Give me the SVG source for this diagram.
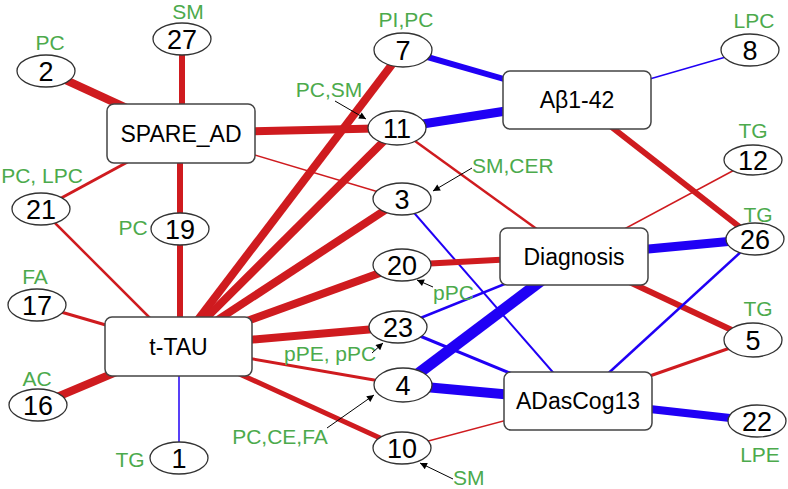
<svg xmlns="http://www.w3.org/2000/svg" width="788" height="489" viewBox="0 0 788 489">
<defs>
<style>
.r{stroke:#cf1b1f;fill:none}
.b{stroke:#2000f5;fill:none}
.n ellipse{fill:#fff;stroke:#333;stroke-width:1.3}
.n rect{fill:#fff;stroke:#444;stroke-width:1.5}
.num{font-family:"Liberation Sans",Arial,sans-serif;font-size:27px;fill:#000;text-anchor:middle}
.box{font-family:"Liberation Sans",Arial,sans-serif;font-size:23px;fill:#000;text-anchor:middle}
.g{font-family:"Liberation Sans",Arial,sans-serif;font-size:21px;fill:#4caa4c;text-anchor:middle}
.gs{text-anchor:start}
.ar{stroke:#000;stroke-width:1;fill:none;marker-end:url(#ah)}
</style>
<marker id="ah" viewBox="0 0 10 10" refX="10" refY="5" markerWidth="9" markerHeight="7" markerUnits="userSpaceOnUse" orient="auto">
<path d="M0,0 L10,5 L0,10 z" fill="#000"/>
</marker>
</defs>
<rect width="788" height="489" fill="#fff"/>
<g id="connectors">
<line class="r" stroke-width="8" x1="181" y1="133" x2="46" y2="71"/>
<line class="r" stroke-width="6" x1="182" y1="133" x2="182" y2="39"/>
<line class="r" stroke-width="6" x1="180" y1="133" x2="180" y2="229"/>
<line class="r" stroke-width="3" x1="181" y1="133" x2="41" y2="209"/>
<line class="r" stroke-width="8" x1="181" y1="133" x2="397" y2="128"/>
<line class="r" stroke-width="1.5" x1="181" y1="133" x2="402" y2="199"/>
<line class="r" stroke-width="2.5" x1="178" y1="346" x2="41" y2="209"/>
<line class="r" stroke-width="6" x1="180" y1="346" x2="180" y2="229"/>
<line class="r" stroke-width="3" x1="178" y1="346" x2="37" y2="305"/>
<line class="r" stroke-width="8" x1="178" y1="346" x2="38" y2="405"/>
<line class="b" stroke-width="1.5" x1="179" y1="346" x2="179" y2="458"/>
<line class="r" stroke-width="8" x1="178" y1="346" x2="403" y2="50"/>
<line class="r" stroke-width="8" x1="178" y1="346" x2="397" y2="128"/>
<line class="r" stroke-width="8" x1="178" y1="346" x2="402" y2="199"/>
<line class="r" stroke-width="8" x1="178" y1="346" x2="402" y2="265"/>
<line class="r" stroke-width="8" x1="178" y1="346" x2="398" y2="327"/>
<line class="r" stroke-width="3" x1="178" y1="346" x2="403" y2="385"/>
<line class="r" stroke-width="5" x1="178" y1="346" x2="402" y2="448"/>
<line class="b" stroke-width="6" x1="403" y1="50" x2="577" y2="100"/>
<line class="b" stroke-width="9" x1="397" y1="128" x2="577" y2="100"/>
<line class="b" stroke-width="1.5" x1="750" y1="50" x2="577" y2="100"/>
<line class="r" stroke-width="2.5" x1="397" y1="128" x2="574" y2="256"/>
<line class="r" stroke-width="6" x1="577" y1="100" x2="755" y2="239"/>
<line class="r" stroke-width="1.5" x1="753" y1="160" x2="574" y2="256"/>
<line class="b" stroke-width="9" x1="574" y1="256" x2="755" y2="239"/>
<line class="b" stroke-width="2" x1="402" y1="199" x2="578" y2="401"/>
<line class="r" stroke-width="6" x1="402" y1="265" x2="574" y2="256"/>
<line class="b" stroke-width="2.5" x1="398" y1="327" x2="574" y2="256"/>
<line class="b" stroke-width="3" x1="398" y1="327" x2="578" y2="401"/>
<line class="b" stroke-width="11" x1="403" y1="385" x2="574" y2="256"/>
<line class="b" stroke-width="10" x1="403" y1="385" x2="578" y2="401"/>
<line class="r" stroke-width="1.5" x1="402" y1="448" x2="578" y2="401"/>
<line class="r" stroke-width="6" x1="574" y1="256" x2="753" y2="340"/>
<line class="b" stroke-width="2.5" x1="755" y1="239" x2="578" y2="401"/>
<line class="r" stroke-width="3" x1="753" y1="340" x2="578" y2="401"/>
<line class="b" stroke-width="8" x1="578" y1="401" x2="757" y2="421"/>
</g>
<g id="n_SPARE_AD" class="n"><rect x="107" y="104" width="148" height="59" rx="7"/><text class="box" x="181" y="142">SPARE_AD</text></g>
<g id="n_tTAU" class="n"><rect x="105" y="317" width="147" height="59" rx="7"/><text class="box" x="178.5" y="355">t-TAU</text></g>
<g id="n_Abeta" class="n"><rect x="503" y="71" width="148" height="58" rx="7"/><text class="box" x="577" y="108">Aβ1-42</text></g>
<g id="n_Diagnosis" class="n"><rect x="500" y="228" width="148" height="57" rx="7"/><text class="box" x="574" y="265">Diagnosis</text></g>
<g id="n_ADasCog13" class="n"><rect x="504" y="372" width="148" height="58" rx="7"/><text class="box" x="578" y="409">ADasCog13</text></g>
<g id="n2" class="n"><ellipse cx="46" cy="71" rx="29" ry="16"/><text class="num" x="46" y="80.5">2</text></g>
<g id="n27" class="n"><ellipse cx="182" cy="39" rx="29" ry="16"/><text class="num" x="182" y="48.5">27</text></g>
<g id="n21" class="n"><ellipse cx="41" cy="209" rx="29" ry="16"/><text class="num" x="41" y="218.5">21</text></g>
<g id="n19" class="n"><ellipse cx="180" cy="229" rx="29" ry="16"/><text class="num" x="180" y="238.5">19</text></g>
<g id="n17" class="n"><ellipse cx="37" cy="305" rx="29" ry="16"/><text class="num" x="37" y="314.5">17</text></g>
<g id="n16" class="n"><ellipse cx="38" cy="405" rx="29" ry="16"/><text class="num" x="38" y="414.5">16</text></g>
<g id="n1" class="n"><ellipse cx="179" cy="458" rx="29" ry="16"/><text class="num" x="179" y="467.5">1</text></g>
<g id="n7" class="n"><ellipse cx="403" cy="50" rx="29" ry="17"/><text class="num" x="403" y="59.5">7</text></g>
<g id="n11" class="n"><ellipse cx="397" cy="128" rx="29" ry="17"/><text class="num" x="397" y="137.5">11</text></g>
<g id="n3" class="n"><ellipse cx="402" cy="199" rx="29" ry="16"/><text class="num" x="402" y="208.5">3</text></g>
<g id="n20" class="n"><ellipse cx="402" cy="265" rx="29" ry="16"/><text class="num" x="402" y="274.5">20</text></g>
<g id="n23" class="n"><ellipse cx="398" cy="327" rx="29" ry="16"/><text class="num" x="398" y="336.5">23</text></g>
<g id="n4" class="n"><ellipse cx="403" cy="385" rx="29" ry="17"/><text class="num" x="403" y="394.5">4</text></g>
<g id="n10" class="n"><ellipse cx="402" cy="448" rx="29" ry="16"/><text class="num" x="402" y="457.5">10</text></g>
<g id="n8" class="n"><ellipse cx="750" cy="50" rx="29" ry="16"/><text class="num" x="750" y="59.5">8</text></g>
<g id="n12" class="n"><ellipse cx="753" cy="160" rx="29" ry="15"/><text class="num" x="753" y="169.5">12</text></g>
<g id="n26" class="n"><ellipse cx="755" cy="239" rx="29" ry="16"/><text class="num" x="755" y="248.5">26</text></g>
<g id="n5" class="n"><ellipse cx="753" cy="340" rx="29" ry="17"/><text class="num" x="753" y="349.5">5</text></g>
<g id="n22" class="n"><ellipse cx="757" cy="421" rx="29" ry="16"/><text class="num" x="757" y="430.5">22</text></g>
<g id="labels">
<text class="g" x="50" y="50">PC</text>
<text class="g" x="188" y="19">SM</text>
<text class="g" x="42" y="183">PC, LPC</text>
<text class="g" x="133" y="235">PC</text>
<text class="g" x="35" y="284">FA</text>
<text class="g" x="37" y="386">AC</text>
<text class="g" x="130" y="467">TG</text>
<text class="g" x="406" y="27">PI,PC</text>
<text class="g" x="329" y="97">PC,SM</text>
<text class="g gs" x="472" y="173">SM,CER</text>
<text class="g" x="754" y="28">LPC</text>
<text class="g" x="753" y="138">TG</text>
<text class="g" x="758" y="222">TG</text>
<text class="g" x="758" y="316">TG</text>
<text class="g" x="760" y="462">LPE</text>
<text class="g gs" x="433" y="300">pPC</text>
<text class="g gs" x="284" y="361">pPE, pPC</text>
<text class="g" x="280" y="444">PC,CE,FA</text>
<text class="g gs" x="453" y="485">SM</text>
</g>
<g id="arrows">
<line class="ar" x1="335" y1="101" x2="366" y2="119"/>
<line class="ar" x1="472" y1="168" x2="433" y2="191"/>
<line class="ar" x1="433" y1="287" x2="417" y2="280"/>
<line class="ar" x1="372" y1="353" x2="383" y2="343"/>
<line class="ar" x1="327" y1="428" x2="374" y2="395"/>
<line class="ar" x1="453" y1="479" x2="420" y2="463"/>
</g>
</svg>
